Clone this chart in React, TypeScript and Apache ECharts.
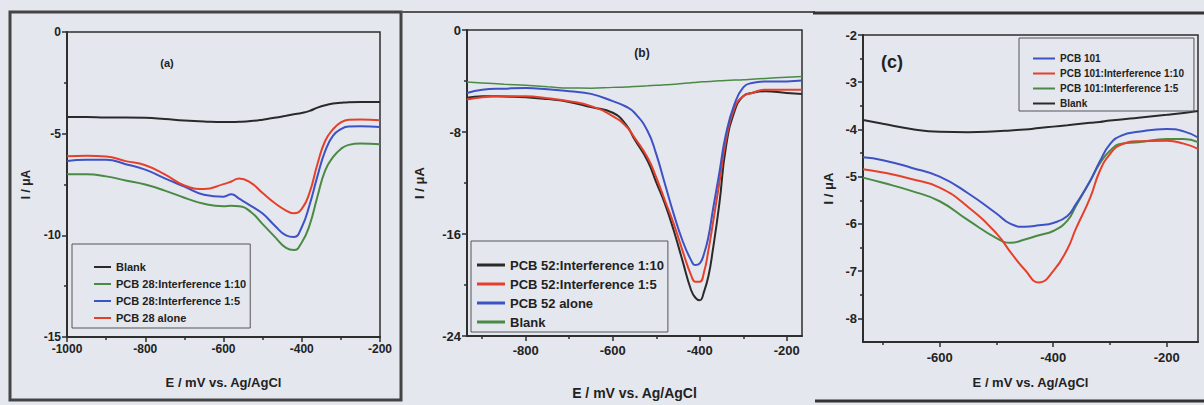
import React, { useEffect, useRef } from "react";
import * as echarts from "echarts";

// ---------- Panel (a) ----------
const xA = [-1000, -950, -900, -850, -800, -750, -700, -650, -600, -580, -560, -530, -500, -470, -440, -420, -400, -380, -360, -340, -320, -300, -280, -250, -200];
const blankA = [-4.18, -4.18, -4.2, -4.2, -4.22, -4.28, -4.35, -4.4, -4.43, -4.43, -4.42, -4.38, -4.31, -4.22, -4.12, -4.05, -3.98, -3.88, -3.72, -3.6, -3.52, -3.48, -3.45, -3.44, -3.44];
const int10A = [-7.0, -7.0, -7.1, -7.3, -7.5, -7.8, -8.15, -8.45, -8.57, -8.55, -8.57, -8.85, -9.45, -10.05, -10.62, -10.72, -10.35, -9.5, -8.1, -6.8, -6.15, -5.75, -5.55, -5.48, -5.52];
const int5A = [-6.34, -6.28, -6.28, -6.5, -6.77, -7.2, -7.6, -8.0, -8.1, -7.98, -8.2, -8.55, -8.93, -9.5, -10.0, -10.08, -9.6, -8.5, -7.1, -5.85, -5.1, -4.78, -4.65, -4.64, -4.67];
const aloneA = [-6.11, -6.08, -6.12, -6.35, -6.55, -7.0, -7.55, -7.72, -7.48, -7.35, -7.2, -7.42, -7.92, -8.4, -8.78, -8.92, -8.7, -7.9, -6.5, -5.35, -4.78, -4.45, -4.32, -4.3, -4.34];
const xTicksA = [-1000, -800, -600, -400, -200];
const xMinorA = [-900, -700, -500, -300];
const yTicksA = [0, -5, -10, -15];
const yMinorA = [-2.5, -7.5, -12.5];
const namesA = ["Blank", "PCB 28:Interference 1:10", "PCB 28:Interference 1:5", "PCB 28 alone"];

// ---------- Panel (b) ----------
const xB = [-935, -900, -850, -800, -750, -700, -650, -600, -570, -550, -520, -500, -480, -460, -440, -420, -410, -400, -390, -380, -370, -355, -340, -320, -300, -280, -250, -200, -165];
const int10B = [-5.32, -5.19, -5.22, -5.27, -5.42, -5.64, -6.05, -6.49, -7.4, -8.57, -10.26, -11.95, -13.64, -15.71, -18.05, -20.39, -21.0, -21.2, -20.5, -19.3, -17.27, -13.64, -9.22, -6.36, -5.19, -4.94, -4.81, -4.94, -5.01];
const int5B = [-5.45, -5.27, -5.2, -5.19, -5.35, -5.58, -5.97, -6.75, -7.53, -8.44, -10.0, -11.56, -13.38, -15.19, -17.27, -19.22, -19.74, -19.74, -18.96, -17.27, -15.2, -12.0, -8.7, -6.1, -5.19, -4.94, -4.68, -4.68, -4.68];
const aloneB = [-4.94, -4.68, -4.6, -4.55, -4.65, -4.81, -5.01, -5.58, -6.0, -6.49, -7.92, -9.74, -12.08, -14.42, -16.49, -18.05, -18.44, -18.31, -17.53, -16.2, -14.16, -11.2, -8.2, -5.8, -4.5, -4.15, -4.03, -4.03, -3.97];
const blankB = [-4.08, -4.15, -4.25, -4.34, -4.45, -4.55, -4.56, -4.5, -4.47, -4.43, -4.38, -4.34, -4.3, -4.25, -4.2, -4.14, -4.11, -4.08, -4.06, -4.04, -4.02, -3.99, -3.96, -3.93, -3.9, -3.86, -3.8, -3.7, -3.64];
const xTicksB = [-800, -600, -400, -200];
const xMinorB = [-900, -700, -500, -300];
const yTicksB = [0, -8, -16, -24];
const yMinorB = [-4, -12, -20];
const namesB = ["PCB 52:Interference 1:10", "PCB 52:Interference 1:5", "PCB 52 alone", "Blank"];

// ---------- Panel (c) ----------
const xC = [-735, -700, -650, -600, -550, -500, -475, -450, -425, -400, -375, -360, -335, -318, -300, -280, -250, -200, -170, -145];
const pcbC = [-4.59, -4.65, -4.81, -5.0, -5.35, -5.78, -6.0, -6.06, -6.03, -5.98, -5.83, -5.58, -5.09, -4.68, -4.31, -4.13, -4.05, -3.99, -4.04, -4.17];
const int10C = [-4.84, -4.91, -5.05, -5.23, -5.64, -6.2, -6.6, -6.97, -7.24, -7.0, -6.53, -6.1, -5.45, -4.88, -4.52, -4.32, -4.25, -4.24, -4.3, -4.41];
const int5C = [-5.02, -5.13, -5.3, -5.52, -5.92, -6.3, -6.4, -6.33, -6.24, -6.15, -5.93, -5.62, -5.09, -4.72, -4.45, -4.3, -4.27, -4.2, -4.2, -4.27];
const blankC = [-3.8, -3.88, -3.99, -4.05, -4.06, -4.04, -4.02, -4.0, -3.97, -3.94, -3.91, -3.89, -3.86, -3.84, -3.81, -3.79, -3.75, -3.69, -3.65, -3.61];
const xTicksC = [-600, -400, -200];
const xMinorC = [-700, -500, -300];
const yTicksC = [-2, -3, -4, -5, -6, -7, -8];
const yMinorC = [-2.5, -3.5, -4.5, -5.5, -6.5, -7.5];
const namesC = ["PCB 101", "PCB 101:Interference 1:10", "PCB 101:Interference 1:5", "Blank"];

const xName = "E / mV vs. Ag/AgCl";
const yName = "I / μA";

const FONT = "'Liberation Sans', Arial, sans-serif";
const AXIS = "#2e2e2e";
const BLACK = "#2a2a2a";
const GREEN = "#4a8a45";
const BLUE = "#3d52c4";
const RED = "#e5402c";

function pairs(xs: number[], ys: number[]) {
  return xs.map((x, i) => [x, ys[i]]);
}

function strip(name: string) {
  const i = name.indexOf("|");
  return i >= 0 ? name.slice(i + 1) : name;
}

const plain = (v: number) => String(v);

function majorX(grid: number, min: number, max: number, ticks: number[], fontSize: number, gap: number, nameSize: number, labelMargin: number) {
  return {
    type: "value", gridIndex: grid, min, max, position: "bottom",
    name: xName, nameLocation: "middle", nameGap: gap,
    nameTextStyle: { fontFamily: FONT, fontWeight: "bold", fontSize: nameSize, color: "#222" },
    axisLine: { show: true, onZero: false, lineStyle: { color: AXIS, width: 2 } },
    axisTick: { show: true, customValues: ticks, length: 5, lineStyle: { color: AXIS, width: 1.5 } },
    axisLabel: { customValues: ticks, formatter: plain, margin: labelMargin, fontFamily: FONT, fontWeight: "bold", fontSize, color: "#222" },
    splitLine: { show: false },
  };
}
function minorX(grid: number, min: number, max: number, ticks: number[]) {
  return {
    type: "value", gridIndex: grid, min, max, position: "bottom",
    axisLine: { show: false, onZero: false },
    axisTick: { show: true, customValues: ticks, length: 3, lineStyle: { color: AXIS, width: 1.5 } },
    axisLabel: { show: false },
    splitLine: { show: false },
  };
}
function majorY(grid: number, min: number, max: number, ticks: number[], fontSize: number, gap: number, nameSize: number, labelMargin: number) {
  return {
    type: "value", gridIndex: grid, min, max, position: "left",
    name: yName, nameLocation: "middle", nameGap: gap,
    nameTextStyle: { fontFamily: FONT, fontWeight: "bold", fontSize: nameSize, color: "#222" },
    axisLine: { show: true, onZero: false, lineStyle: { color: AXIS, width: 2 } },
    axisTick: { show: true, customValues: ticks, length: 5, lineStyle: { color: AXIS, width: 1.5 } },
    axisLabel: { customValues: ticks, formatter: plain, margin: labelMargin, fontFamily: FONT, fontWeight: "bold", fontSize, color: "#222" },
    splitLine: { show: false },
  };
}
function minorY(grid: number, min: number, max: number, ticks: number[]) {
  return {
    type: "value", gridIndex: grid, min, max, position: "left",
    axisLine: { show: false, onZero: false },
    axisTick: { show: true, customValues: ticks, length: 3, lineStyle: { color: AXIS, width: 1.5 } },
    axisLabel: { show: false },
    splitLine: { show: false },
  };
}

function line(prefix: string, name: string, xs: number[], ys: number[], axis: number, color: string, width = 2) {
  return {
    type: "line",
    name: prefix + "|" + name,
    xAxisIndex: axis, yAxisIndex: axis,
    data: pairs(xs, ys),
    symbol: "none", showSymbol: false,
    smooth: 0.5,
    lineStyle: { color, width },
    itemStyle: { color },
  };
}

export default function App() {
  const ref = useRef<HTMLDivElement>(null);
  useEffect(() => {
    if (!ref.current) return;
    const chart = echarts.init(ref.current, undefined, { renderer: "svg" });
    const legendCommon = {
      orient: "vertical", selectedMode: false, formatter: strip, icon: "rect",
      borderColor: "#555", borderWidth: 1, backgroundColor: "transparent",
    };
    const option: any = {
      animation: false,
      backgroundColor: "#e5e7ee",
      grid: [
        { left: 67, top: 32, width: 313, height: 305, show: true, borderColor: AXIS, borderWidth: 1.5, containLabel: false },
        { left: 467, top: 30, width: 335, height: 310, show: true, borderColor: AXIS, borderWidth: 1.5, containLabel: false },
        { left: 863, top: 35, width: 335, height: 307, show: true, borderColor: AXIS, borderWidth: 1.5, containLabel: false },
      ],
      xAxis: [
        majorX(0, -1000, -200, xTicksA, 12, 39, 13, 6),
        majorX(1, -935, -165, xTicksB, 13, 50, 14, 8),
        majorX(2, -735, -145, xTicksC, 13, 34, 13, 9),
        minorX(0, -1000, -200, xMinorA),
        minorX(1, -935, -165, xMinorB),
        minorX(2, -735, -145, xMinorC),
      ],
      yAxis: [
        majorY(0, -15, 0, yTicksA, 12, 35, 12, 6),
        majorY(1, -24, 0, yTicksB, 13, 41, 13, 6),
        majorY(2, -8.5, -2, yTicksC, 13, 28, 13, 6),
        minorY(0, -15, 0, yMinorA),
        minorY(1, -24, 0, yMinorB),
        minorY(2, -8.5, -2, yMinorC),
      ],
      legend: [
        {
          ...legendCommon,
          data: namesA.map((n) => "a|" + n),
          left: 72, top: 244, itemWidth: 17, itemHeight: 2, itemGap: 5,
          padding: [17, 4, 4, 22],
          textStyle: { fontFamily: FONT, fontWeight: "bold", fontSize: 11, lineHeight: 12, color: "#222" },
        },
        {
          ...legendCommon,
          data: namesB.map((n) => "b|" + n),
          left: 471, top: 241, itemWidth: 28, itemHeight: 3, itemGap: 5,
          padding: [17, 4, 3, 6],
          textStyle: { fontFamily: FONT, fontWeight: "bold", fontSize: 13, lineHeight: 14, color: "#222" },
        },
        {
          ...legendCommon,
          data: namesC.map((n) => "c|" + n),
          left: 1019, top: 38, itemWidth: 22, itemHeight: 2, itemGap: 4,
          padding: [15, 10, 2, 14],
          textStyle: { fontFamily: FONT, fontWeight: "bold", fontSize: 10, lineHeight: 11, color: "#222" },
        },
      ],
      series: [
        line("a", namesA[0], xA, blankA, 0, BLACK),
        line("a", namesA[1], xA, int10A, 0, GREEN),
        line("a", namesA[2], xA, int5A, 0, BLUE),
        line("a", namesA[3], xA, aloneA, 0, RED),
        line("b", namesB[3], xB, blankB, 1, GREEN, 1.5),
        line("b", namesB[0], xB, int10B, 1, BLACK),
        line("b", namesB[1], xB, int5B, 1, RED),
        line("b", namesB[2], xB, aloneB, 1, BLUE),
        line("c", namesC[3], xC, blankC, 2, BLACK),
        line("c", namesC[2], xC, int5C, 2, GREEN),
        line("c", namesC[1], xC, int10C, 2, RED),
        line("c", namesC[0], xC, pcbC, 2, BLUE),
      ],
      graphic: [
        { type: "rect", shape: { x: 10, y: 12, width: 391, height: 388 }, style: { fill: "none", stroke: "#444", lineWidth: 3 }, silent: true },
        { type: "line", shape: { x1: 401, y1: 12, x2: 815, y2: 12 }, style: { stroke: "#555", lineWidth: 2 }, silent: true },
        { type: "line", shape: { x1: 813, y1: 13, x2: 1204, y2: 13 }, style: { stroke: "#333", lineWidth: 3 }, silent: true },
        { type: "line", shape: { x1: 815, y1: 401, x2: 1204, y2: 401 }, style: { stroke: "#333", lineWidth: 3 }, silent: true },
        { type: "text", x: 167, y: 63, style: { text: "(a)", fontFamily: FONT, fontWeight: "bold", fontSize: 11, fill: "#222", align: "center", verticalAlign: "middle" } },
        { type: "text", x: 642, y: 53, style: { text: "(b)", fontFamily: FONT, fontWeight: "bold", fontSize: 12, fill: "#222", align: "center", verticalAlign: "middle" } },
        { type: "text", x: 892, y: 62, style: { text: "(c)", fontFamily: FONT, fontWeight: "bold", fontSize: 18, fill: "#222", align: "center", verticalAlign: "middle" } },
      ],
    };
    chart.setOption(option);
    return () => chart.dispose();
  }, []);
  return <div ref={ref} style={{ position: "absolute", left: 0, top: 0, width: 1204, height: 405 }} />;
}
